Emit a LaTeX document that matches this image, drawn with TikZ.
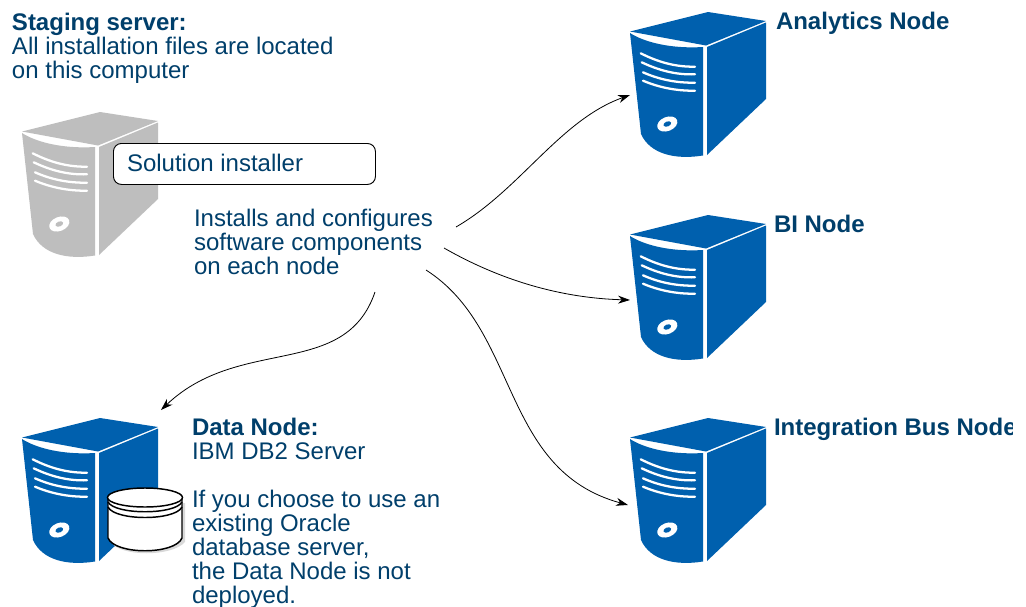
\documentclass[tikz,border=0pt]{standalone}
\usepackage{fontspec}
\setmainfont{Liberation Sans}
\usetikzlibrary{arrows.meta}
\definecolor{srvblue}{HTML}{0060AE}
\definecolor{srvgray}{HTML}{BEBEBE}
\definecolor{txtblue}{HTML}{003F6B}
\tikzset{
  x=0.75pt,y=-0.75pt,
  srv/.pic={
    \fill[srvcol] (0,19.5) -- (78,0) -- (136,9) -- (76,33.5) -- cycle;
    \fill[srvcol] (0,21) .. controls (14,30) and (40,37) .. (73,35) -- (73,143.5)
       .. controls (45,148) and (20,142) .. (11,122) -- cycle;
    \fill[srvcol] (77,35) -- (136,10.5) -- (136,87) -- (77,143) -- cycle;
    \draw[white,line width=1.7pt,line cap=round] (10.7,41.3) .. controls (28,50) and (45,55) .. (65,54.7);
    \draw[white,line width=1.7pt,line cap=round] (11.7,50.3) .. controls (28,58) and (45,63) .. (65,62.3);
    \draw[white,line width=1.7pt,line cap=round] (13,60.3) .. controls (28,67) and (45,71) .. (65,70.7);
    \draw[white,line width=1.7pt,line cap=round] (13,68.7) .. controls (28,75) and (45,79) .. (65,78.7);
    \fill[white,rotate around={22:(37.3,112)}] (37.3,112) ellipse [x radius=10.5,y radius=7];
    \fill[srvcol,rotate around={22:(37.3,112)}] (37.3,112) ellipse [x radius=4,y radius=2.5];
  },
  srvcol/.style={fill=srvblue},
  lbl/.style={inner sep=0pt,outer sep=0pt,anchor=north west,align=left,text=txtblue,
    font=\fontsize{18pt}{18pt}\selectfont},
  conn/.style={-{Stealth[length=9pt,width=6pt]},black,line width=0.6pt},
}
\begin{document}
\begin{tikzpicture}
\useasboundingbox (0,0) rectangle (1026,607);
\fill[white] (0,0) rectangle (1026,607);
% servers
\pic[srvcol/.style={fill=srvgray}] at (22,112) {srv};
\pic at (630,12) {srv};
\pic at (630,215) {srv};
\pic at (630,418) {srv};
\pic at (22,418) {srv};
% cylinder
\fill[gray!30] (111,503) -- (111,542) .. controls (120,557) and (172,557) .. (185,542) -- (185,503) -- cycle;
\path[fill=white,draw=black,line width=1.1pt] (108,497.5) -- (108,538) .. controls (115,555) and (175,555) .. (182,538) -- (182,497.5) -- cycle;
\draw[black,line width=1.1pt] (108,502) .. controls (115,515) and (175,515) .. (182,502);
\draw[black,line width=1.1pt] (108,507) .. controls (115,521) and (175,521) .. (182,507);
\draw[fill=white,draw=black,line width=1.1pt] (145,497.5) ellipse [x radius=37.5,y radius=9.5];
% box
\node[draw=black,fill=white,rounded corners=8*0.75pt,line width=0.7pt,minimum width=262*0.75pt,minimum height=41*0.75pt,inner sep=0pt,anchor=north west] (installerbox) at (113,143) {};
\node[lbl,anchor=base west] (installer) at (127,171) {Solution installer};
% text
\node[lbl] (staging) at (12,13) {\textbf{Staging server:}\\All installation files are located\\on this computer};
\node[lbl] (installs) at (194,209) {Installs and configures\\software components\\on each node};
\node[lbl] (datatxt) at (192,418.5) {\textbf{Data Node:}\\IBM DB2 Server\\[18pt]If you choose to use an\\existing Oracle\\database server,\\the Data Node is not\\deployed.};
\node[lbl] (analytics) at (776,12) {\textbf{Analytics Node}};
\node[lbl] (bi) at (774,215) {\textbf{BI Node}};
\begin{scope}
\clip (0,0) rectangle (1012,607);
\node[lbl] (integration) at (774,418) {\textbf{Integration Bus Node}};
\end{scope}
% connector ends
\coordinate (s1) at (456,227); \coordinate (e1) at (630,95);
\coordinate (s2) at (444,248); \coordinate (e2) at (630,300);
\coordinate (s3) at (426,270); \coordinate (e3) at (628,505);
\coordinate (s4) at (375,292); \coordinate (e4) at (161,410);
\draw[conn] (s1) .. controls (520,190) and (560,120) .. (e1);
\draw[conn] (s2) .. controls (500,280) and (560,298) .. (e2);
\draw[conn] (s3) .. controls (520,330) and (500,470) .. (e3);
\draw[conn] (s4) .. controls (345,380) and (240,335) .. (e4);
\end{tikzpicture}
\end{document}
